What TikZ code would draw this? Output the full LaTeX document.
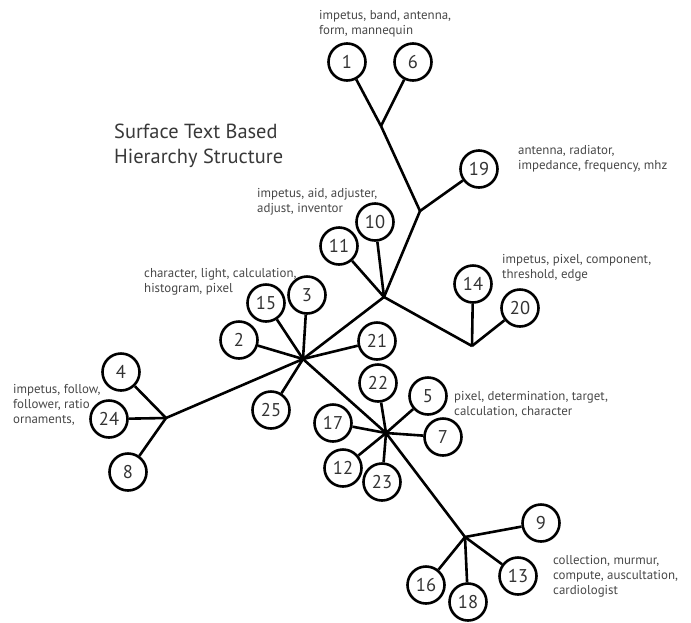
\documentclass[tikz,border=0pt]{standalone}
\usepackage{fontspec}
\setmainfont{PT Sans}

\tikzset{
	leaf/.style={circle, draw, line width=2.6pt, minimum size=37pt, inner sep=0pt,
		font=\fontsize{18.5}{20}\selectfont, text=black!80},
	twig/.style={line width=2.6pt},
	note/.style={anchor=west, align=left, inner sep=0pt, text=black!72,
		font=\fontsize{12.9}{15.2}\selectfont},
	heading/.style={anchor=west, align=left, inner sep=0pt, text=black!78,
		font=\fontsize{20.4}{24.5}\selectfont}
}

\begin{document}
\begin{tikzpicture}[x=1pt, y=-1pt]
	\useasboundingbox (0,0) rectangle (691,622);
	
	%branch points
	\coordinate (hubA) at (303,359);
	\coordinate (hubB) at (384,297);
	\coordinate (hubC) at (386,433);
	\coordinate (fork19) at (420,211);
	\coordinate (forkTop) at (381,126);
	\coordinate (fork14) at (472,346);
	\coordinate (forkLeft) at (166,418);
	\coordinate (fork9) at (465,537);
	
	%leaves
	\foreach \n/\x/\y in {1/347/62, 6/413/62, 19/479/169, 10/375/222, 11/339/246,
		14/473/284, 20/520/308, 3/307/295, 15/266/303, 2/239/340, 21/377/341,
		25/271/410, 22/378/383, 5/428/396, 17/333/423, 7/443/437, 12/343/468,
		23/382/482, 4/121/372, 24/109/419, 8/128/472, 9/541/523, 13/518/576,
		16/426/585, 18/468/602}
	\node[leaf] (n\n) at (\x,\y) {\n};
	
	%trunk
	\draw[twig] (forkLeft) -- (hubA) -- (hubC) -- (fork9);
	\draw[twig] (hubA) -- (hubB) -- (fork19) -- (forkTop);
	\draw[twig] (hubB) -- (fork14);
	
	%twigs to leaves
	\foreach \j/\n in {forkTop/1, forkTop/6, fork19/19, hubB/10, hubB/11,
		fork14/14, fork14/20, hubA/3, hubA/15, hubA/2, hubA/21, hubA/25,
		hubC/22, hubC/5, hubC/17, hubC/7, hubC/12, hubC/23,
		forkLeft/4, forkLeft/24, forkLeft/8,
		fork9/9, fork9/13, fork9/16, fork9/18}
	\draw[twig] (\j) -- (n\n);
	
	%labels
	\node[heading] (title) at (114,146) {Surface Text Based\\Hierarchy Structure};
	\node[note] (t1) at (319,24) {impetus, band, antenna,\\form, mannequin};
	\node[note] (t19) at (518,159) {antenna, radiator,\\impedance, frequency, mhz};
	\node[note] (t10) at (257,202) {impetus, aid, adjuster,\\adjust, inventor};
	\node[note] (t3) at (144,282) {character, light, calculation,\\histogram, pixel};
	\node[note] (t14) at (502,268) {impetus, pixel, component,\\threshold, edge};
	\node[note] (t5) at (454,404) {pixel, determination, target,\\calculation, character};
	\node[note] (t13) at (553,576) {collection, murmur,\\compute, auscultation,\\cardiologist};
	\node[note] (t24) at (13,405) {impetus, follow,\\follower, ratio\\ornaments,};
\end{tikzpicture}
\end{document}
